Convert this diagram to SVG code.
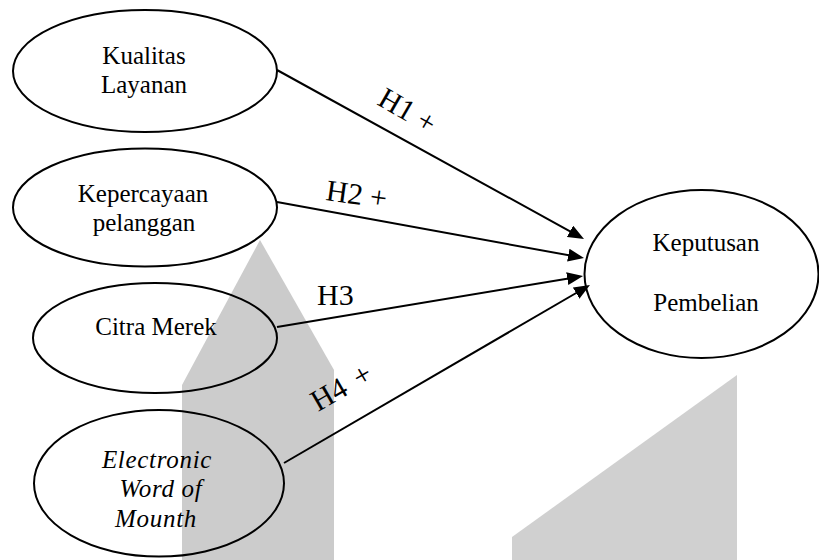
<svg xmlns="http://www.w3.org/2000/svg" width="819" height="560" viewBox="0 0 819 560">
<style>
.node ellipse{fill:none;stroke:#000;stroke-width:2}
.node text{font-family:"Liberation Serif","Times New Roman",serif;font-size:25px;fill:#000;text-anchor:middle}
.it{font-style:italic;letter-spacing:0.7px}
.conn line{stroke:#000;stroke-width:2;fill:none}
.lbl{font-family:"Liberation Serif","Times New Roman",serif;font-size:30px;fill:#000}
.wm{fill:#cccccc}
</style>
<defs>
<marker id="ah" markerUnits="userSpaceOnUse" markerWidth="18" markerHeight="14" refX="12" refY="6.5" orient="auto">
<path d="M0,0 L16,6.5 L0,13 z" fill="#000"/>
</marker>
</defs>
<g id="watermark">
<polygon class="wm" points="260,240 182,385 182,560 260,560"/>
<polygon class="wm" fill="#cbcbcb" style="fill:#cbcbcb" points="260,240 334,370 334,560 260,560"/>
<polygon style="fill:#d0d0d0" points="737,375 737,560 512,560 512,537"/>
</g>
<g id="connectors" class="conn">
<line x1="277" y1="70" x2="580.5" y2="237.1" marker-end="url(#ah)"/>
<line x1="277" y1="202" x2="580.1" y2="257.3" marker-end="url(#ah)"/>
<line x1="277" y1="327" x2="579.1" y2="276.7" marker-end="url(#ah)"/>
<line x1="284" y1="463" x2="586.5" y2="287" marker-end="url(#ah)"/>
<text class="lbl" transform="translate(376,104) rotate(30)">H1 +</text>
<text class="lbl" transform="translate(325,200) rotate(8)">H2 +</text>
<text class="lbl" x="317" y="305">H3</text>
<text class="lbl" transform="translate(318,412) rotate(-30)">H4 <tspan dx="4">+</tspan></text>
</g>
<g id="kualitas" class="node">
<ellipse cx="145" cy="71" rx="132" ry="61"/>
<text x="144" y="64">Kualitas</text>
<text x="144" y="93">Layanan</text>
</g>
<g id="kepercayaan" class="node">
<ellipse cx="145" cy="207.5" rx="132" ry="59"/>
<text x="143" y="202">Kepercayaan</text>
<text x="144" y="231">pelanggan</text>
</g>
<g id="citra" class="node">
<ellipse cx="155" cy="338" rx="122" ry="55"/>
<text x="156" y="335">Citra Merek</text>
</g>
<g id="ewom" class="node">
<ellipse cx="159" cy="483.3" rx="125" ry="73.3"/>
<text class="it" x="157" y="468">Electronic</text>
<text class="it" x="161" y="497">Word of</text>
<text class="it" x="156" y="527">Mounth</text>
</g>
<g id="keputusan" class="node">
<ellipse cx="701.5" cy="274" rx="117" ry="84"/>
<text x="706" y="251">Keputusan</text>
<text x="706" y="311">Pembelian</text>
</g>
</svg>
